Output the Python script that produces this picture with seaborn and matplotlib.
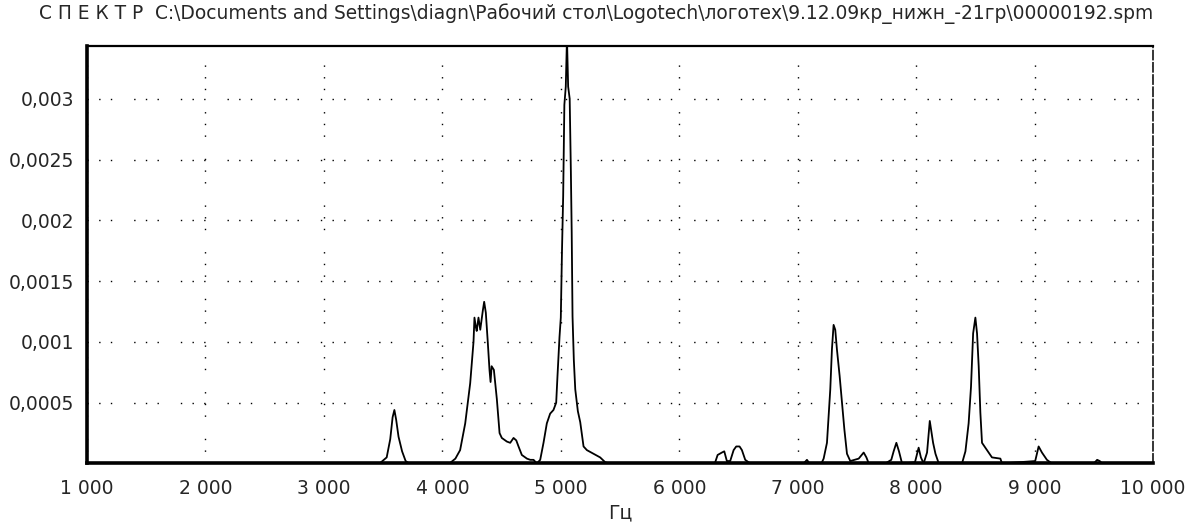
import numpy as np
import matplotlib
matplotlib.use("Agg")
import matplotlib.pyplot as plt
from matplotlib.ticker import FuncFormatter, MultipleLocator
import seaborn as sns

# spectrum: frequency (Hz) and amplitude (x1e-4)
freq_hz = [1000, 3470, 3530, 3560, 3580, 3595, 3610, 3630, 3660, 3690, 3720,
           4060, 4110, 4150, 4193, 4235, 4263, 4271, 4283, 4290, 4305, 4320, 4342, 4353,
           4367, 4384, 4398, 4407, 4416, 4435, 4460, 4483, 4502, 4545, 4573, 4601, 4624,
           4643, 4671, 4714, 4742, 4770, 4798, 4826, 4854, 4882, 4910, 4938, 4961, 4972,
           4989, 5000, 5010, 5020, 5030, 5042, 5052, 5062, 5075, 5085, 5092, 5099, 5110,
           5122, 5144, 5164, 5192, 5220, 5276, 5332, 5375, 5410,
           6300, 6324, 6360, 6380, 6402, 6430, 6459, 6481, 6509, 6529, 6557, 6600,
           7050, 7078, 7100, 7200, 7219, 7247, 7275, 7289, 7303, 7317, 7331, 7354, 7374,
           7394, 7416, 7444, 7480, 7515, 7557, 7580, 7600,
           7740, 7790, 7810, 7833, 7855, 7881,
           7990, 8021, 8040, 8063, 8092, 8115, 8126, 8143, 8163, 8191,
           8387, 8416, 8443, 8463, 8481, 8500, 8514, 8528, 8542, 8556, 8584, 8612, 8640,
           8711, 8725,
           9005, 9034, 9062, 9104, 9146,
           9500, 9528, 9550, 9570, 10000]
amp_e4 = [0, 0, 0.5, 2.0, 3.8, 4.4, 3.6, 2.2, 1.0, 0.2, 0,
          0, 0.4, 1.1, 3.3, 6.6, 10.0, 12.0, 11.2, 10.9, 12.0, 11.0, 12.6, 13.3,
          12.4, 9.9, 7.7, 6.7, 8.0, 7.7, 5.3, 2.5, 2.1, 1.8, 1.7, 2.1, 1.9,
          1.4, 0.7, 0.4, 0.3, 0.3, 0, 0.3, 1.7, 3.3, 4.1, 4.4, 5.0, 7.2,
          10.4, 12.0, 17.5, 22.0, 29.5, 31.0, 35.0, 31.0, 30.0, 24.0, 19.0, 12.1, 8.5,
          6.1, 4.3, 3.4, 1.4, 1.1, 0.8, 0.5, 0.1, 0,
          0, 0.7, 0.9, 1.0, 0.2, 0.2, 1.1, 1.4, 1.4, 1.1, 0.3, 0,
          0, 0.3, 0, 0, 0.4, 1.7, 6.1, 9.4, 11.4, 11.0, 9.4, 7.2, 5.0,
          2.8, 0.8, 0.2, 0.3, 0.4, 0.9, 0.5, 0,
          0, 0.3, 1.0, 1.7, 1.0, 0,
          0.1, 1.3, 0.5, 0, 0.9, 3.5, 2.8, 1.7, 0.8, 0,
          0, 1.0, 3.3, 6.3, 10.7, 12.0, 10.7, 8.0, 4.2, 1.7, 1.3, 0.9, 0.5,
          0.4, 0,
          0.2, 1.4, 0.9, 0.3, 0,
          0, 0.3, 0.2, 0, 0]
amp = np.array(amp_e4) * 1e-4

title = ("С П Е К Т Р  C:\\Documents and Settings\\diagn\\Рабочий стол\\Logotech"
         "\\логотех\\9.12.09кр_нижн_-21гр\\00000192.spm")

sns.set_style("white")
plt.rcParams["font.family"] = ["DejaVu Sans"]

fig = plt.figure(figsize=(11.87, 5.24), dpi=100)
ax = fig.add_axes([0.0733, 0.1155, 0.8981, 0.7967])

sns.lineplot(x=freq_hz, y=amp, ax=ax, color="black", linewidth=1.3,
             estimator=None, sort=False)

ax.set_xlim(1000, 10000)
ax.set_ylim(0, 0.003434)
ax.xaxis.set_major_locator(MultipleLocator(1000))
ax.set_yticks([0.0005, 0.001, 0.0015, 0.002, 0.0025, 0.003])
ax.xaxis.set_major_formatter(FuncFormatter(lambda v, p: f"{v:,.0f}".replace(",", " ")))
ax.yaxis.set_major_formatter(FuncFormatter(lambda v, p: f"{v:g}".replace(".", ",")))
ax.tick_params(axis="x", length=3, width=1, color="black", labelsize=13.5, pad=8)
ax.tick_params(axis="y", length=0, labelsize=13.5, pad=9)

ax.grid(True, color="black", linewidth=1.0, linestyle=(0, (1, 7.4, 1, 7.4, 1, 15.8)))

for s in ["left", "bottom"]:
    ax.spines[s].set_linewidth(2.6)
ax.spines["top"].set_linewidth(1.6)
ax.spines["right"].set_linewidth(1.1)
ax.spines["right"].set_linestyle((0, (6, 2)))
for s in ax.spines.values():
    s.set_color("black")

ax.set_xlabel("Гц", fontsize=13.5, labelpad=4)
fig.text(0.502, 1 - 14 / 524, title, ha="center", va="center", fontsize=13.4)

plt.savefig("out.png", dpi=100)
